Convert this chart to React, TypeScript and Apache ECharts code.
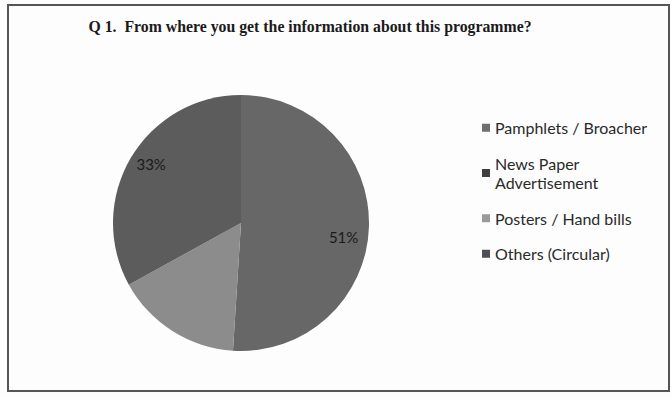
import React, { useEffect, useRef } from "react";
import * as echarts from "echarts";

const titleText = "Q 1.  From where you get the information about this programme?";
const categories = ["Pamphlets / Broacher", "News Paper Advertisement", "Posters / Hand bills", "Others (Circular)"];
const values = [0, 51, 16, 33];
const showLabel = [false, true, false, true];
const colors = ["#767676", "#676767", "#8c8c8c", "#5c5c5c"];
const legendColors = ["#6f6f6f", "#3f3f3f", "#9a9a9a", "#4f4f4f"];
const labelOffsets = [[0, 0], [-4, 11], [0, 0], [2, -5]];

export default function App() {
  const ref = useRef<HTMLDivElement>(null);
  useEffect(() => {
    const chart = echarts.init(ref.current!, null, { renderer: "svg" });
    const center = [241, 223];
    const R = 128;
    chart.setOption({
      animation: false,
      backgroundColor: "#fdfdfd",
      title: {
        text: titleText,
        left: 305,
        textAlign: "center",
        top: 13,
        textStyle: { fontFamily: "Liberation Serif", fontWeight: "bold", fontSize: 15.8, color: "#1a1a1a" },
      },
      legend: {
        orient: "vertical",
        left: 477,
        top: 113,
        itemGap: 16,
        itemWidth: 8,
        itemHeight: 8,
        icon: "rect",
        data: categories.map((c, i) => ({ name: c, itemStyle: { color: legendColors[i] } })),
        formatter: (n: string) => (n === "News Paper Advertisement" ? "News Paper\nAdvertisement" : n),
        textStyle: { fontFamily: "Lato", fontSize: 16, color: "#2a2a2a", lineHeight: 19.5 },
      },
      graphic: [
        {
          type: "rect",
          shape: { x: 8, y: 5, width: 661, height: 386 },
          style: { fill: "none", stroke: "#555", lineWidth: 2 },
        },
      ],
      series: [
        {
          type: "pie",
          center,
          radius: [0, R],
          startAngle: 90,
          clockwise: true,
          label: { show: false },
          labelLine: { show: false },
          itemStyle: { borderWidth: 0 },
          data: categories.map((c, i) => ({ name: c, value: values[i], itemStyle: { color: colors[i] } })),
        },
        {
          type: "pie",
          center,
          radius: [R * 0.62, R],
          startAngle: 90,
          clockwise: true,
          silent: true,
          legendHoverLink: false,
          itemStyle: { color: "transparent", borderWidth: 0 },
          label: {
            position: "inside",
            formatter: "{d}%",
            fontFamily: "Lato",
            fontSize: 15,
            color: "#1a1a1a",
          },
          labelLine: { show: false },
          data: categories.map((c, i) => ({
            name: c,
            value: values[i],
            label: { show: showLabel[i], offset: labelOffsets[i] },
          })),
        },
      ],
    });
    return () => chart.dispose();
  }, []);
  return <div ref={ref} style={{ position: "fixed", left: 0, top: 0, width: 672, height: 399 }} />;
}
